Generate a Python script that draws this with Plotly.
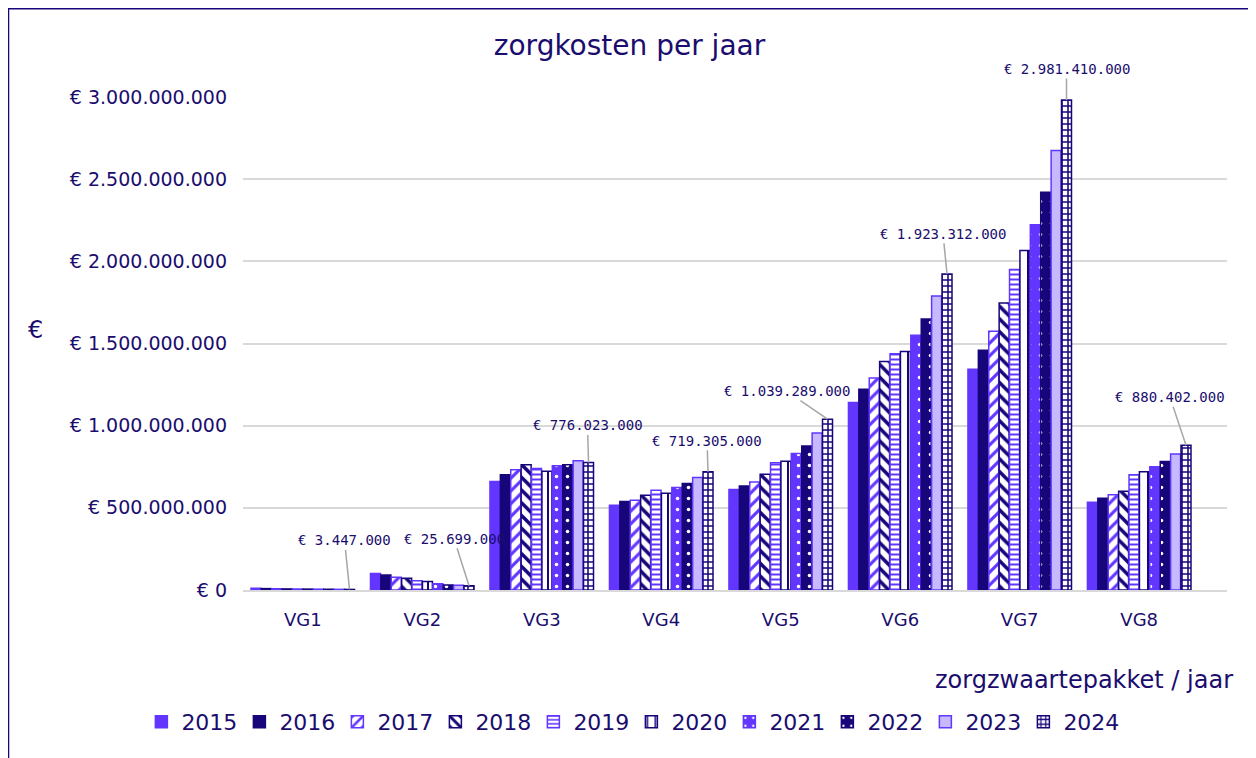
import plotly.graph_objects as go

# ---------------- data ----------------
categories = ["VG1", "VG2", "VG3", "VG4", "VG5", "VG6", "VG7", "VG8"]
years = ["2015", "2016", "2017", "2018", "2019", "2020", "2021", "2022", "2023", "2024"]

v2015 = [10.0e6, 100e6, 660e6, 516e6, 611e6, 1141e6, 1344e6, 534e6]
v2016 = [8.5e6, 91e6, 701e6, 538e6, 633e6, 1221e6, 1459e6, 558e6]
v2017 = [7.5e6, 77e6, 731e6, 546e6, 657e6, 1290e6, 1574e6, 579e6]
v2018 = [6.5e6, 71e6, 762e6, 577e6, 704e6, 1391e6, 1746e6, 601e6]
v2019 = [6.0e6, 57e6, 739e6, 607e6, 775e6, 1438e6, 1951e6, 702e6]
v2020 = [5.5e6, 51e6, 723e6, 589e6, 783e6, 1452e6, 2066e6, 720e6]
v2021 = [5.0e6, 38e6, 756e6, 624e6, 830e6, 1550e6, 2223e6, 750e6]
v2022 = [4.5e6, 31e6, 762e6, 648e6, 876e6, 1649e6, 2420e6, 782e6]
v2023 = [4.0e6, 29e6, 786e6, 684e6, 956e6, 1789e6, 2675e6, 827e6]
v2024 = [3447000, 25699000, 776023000, 719305000, 1039289000, 1923312000, 2981410000, 880402000]

series = [v2015, v2016, v2017, v2018, v2019, v2020, v2021, v2022, v2023, v2024]

# ---------------- styling ----------------
VIOLET = "#6236FF"
NAVY = "#17067A"
LAV = "#C6B9FF"
TEXT = "#1A0D6E"
GRID = "#D9D9D9"
WHITE = "#FFFFFF"

# (base color, pattern shape, fg, bg, line color, pattern size, solidity)
styles = [
    (VIOLET, "", None, None, VIOLET, 8, 0.3),
    (NAVY, "", None, None, NAVY, 8, 0.3),
    (WHITE, "/", VIOLET, WHITE, VIOLET, 9, 0.35),
    (WHITE, "\\", NAVY, WHITE, NAVY, 9, 0.4),
    (WHITE, "-", VIOLET, WHITE, VIOLET, 5, 0.4),
    (WHITE, "|", NAVY, WHITE, NAVY, 10, 0.2),
    (VIOLET, ".", WHITE, VIOLET, VIOLET, 11, 0.08),
    (NAVY, ".", WHITE, NAVY, NAVY, 11, 0.08),
    (LAV, "", None, None, VIOLET, 8, 0.3),
    (WHITE, "+", NAVY, WHITE, NAVY, 6, 0.45),
]

BARGAP = 0.13
BARGROUPGAP = 0.04

fig = go.Figure()
for yr, vals, st in zip(years, series, styles):
    color, shape, fg, bg, lc, psize, sol = st
    marker = dict(color=color, line=dict(color=lc, width=1.5))
    if shape:
        marker["pattern"] = dict(shape=shape, fgcolor=fg, bgcolor=bg,
                                 fillmode="replace", size=psize, solidity=sol)
    fig.add_trace(go.Bar(name=yr, x=categories, y=vals, marker=marker))

# data labels for 2024 with leader lines
off = (1 - BARGAP) * 0.45
label_offsets = [(-5, -49), (-15, -47), (-1, -37), (-1, -31),
                 (-41, -28), (-4, -40), (0, -31), (-16, -48)]
for i, (v, (ax, ay)) in enumerate(zip(v2024, label_offsets)):
    txt = "€ " + f"{v:,.0f}".replace(",", ".")
    fig.add_annotation(x=i + off, y=v, xref="x", yref="y", text=txt,
                       showarrow=True, arrowhead=0, arrowwidth=1.5,
                       arrowcolor="#A6A6A6", standoff=0, ax=ax, ay=ay,
                       font=dict(family="DejaVu Sans Mono", size=14, color=TEXT))

# axis titles as annotations
fig.add_annotation(text="zorgzwaartepakket / jaar", xref="paper", yref="paper",
                   x=1.008, y=-0.1826, xanchor="right", yanchor="middle",
                   showarrow=False, font=dict(family="DejaVu Sans", size=24, color=TEXT))
fig.add_annotation(text="€", xref="paper", yref="paper",
                   x=-0.211, y=0.527, xanchor="center", yanchor="middle",
                   showarrow=False, font=dict(family="DejaVu Sans", size=24, color=TEXT))

# outer border (left, top and right edges of the chart area)
fig.add_shape(type="rect", xref="paper", yref="paper",
              x0=-0.2383, x1=1.0264, y0=-0.45, y1=1.1790,
              line=dict(color=NAVY, width=1.5), fillcolor="rgba(0,0,0,0)", layer="below")

fig.update_layout(
    width=1248, height=750,
    margin=dict(l=235, r=29, t=89, b=168, autoexpand=False),
    paper_bgcolor=WHITE, plot_bgcolor=WHITE,
    barmode="group", bargap=BARGAP, bargroupgap=BARGROUPGAP,
    separators=",.",
    title=dict(text="zorgkosten per jaar", x=0.498, xref="container", xanchor="center",
               y=0.951, yref="container", yanchor="middle",
               font=dict(family="DejaVu Sans", size=28, color=TEXT)),
    font=dict(family="DejaVu Sans", color=TEXT),
    legend=dict(orientation="h", x=0.4995, xanchor="center",
                xref="container", yref="container", y=0.048, yanchor="middle",
                font=dict(family="DejaVu Sans", size=22, color=TEXT),
                entrywidth=53, traceorder="normal", bgcolor="rgba(0,0,0,0)"),
    xaxis=dict(showline=True, linecolor=GRID, linewidth=1.5, ticks="",
               tickfont=dict(family="DejaVu Sans", size=18, color=TEXT),
               ticklabelstandoff=13, showgrid=False, automargin=False),
    yaxis=dict(range=[0, 3e9], dtick=5e8, tickprefix="€ ", tickformat=",d",
               showgrid=True, gridcolor=GRID, gridwidth=1.5, zeroline=False,
               tickfont=dict(family="DejaVu Sans", size=19, color=TEXT),
               ticklabelstandoff=15, automargin=False),
)

fig.write_html("out.html")
